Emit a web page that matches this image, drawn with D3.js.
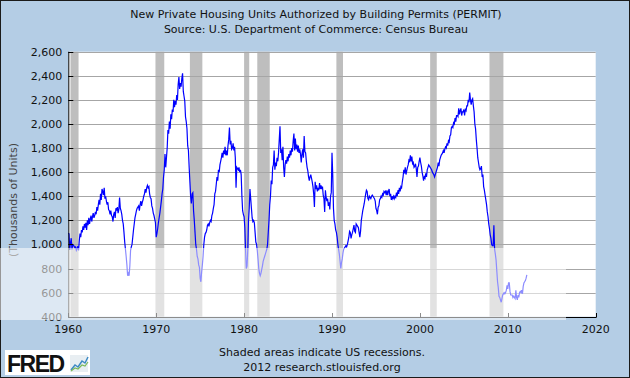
<!DOCTYPE html>
<html><head><meta charset="utf-8">
<script src="https://cdn.jsdelivr.net/npm/d3@7"></script>
<style>body{margin:0;padding:0;overflow:hidden}svg{display:block}</style>
</head><body>
<script>
// Monthly permits (thousands of units, SAAR), Jan 1960 onward
const startYear = 1960;
const permits = [
  1092,1088,955,1016,1052,958,999,994,984,972,979,951,
  965,985,950,1030,1090,1060,1120,1100,1150,1120,1170,1140,
  1180,1120,1200,1160,1220,1170,1210,1240,1190,1230,1260,1220,
  1240,1270,1250,1310,1280,1330,1370,1330,1420,1370,1460,1440,
  1410,1470,1380,1400,1360,1330,1350,1290,1280,1250,1280,1240,
  1230,1190,1250,1270,1220,1300,1280,1310,1260,1290,1390,1300,
  1280,1250,1200,1170,1100,1020,960,900,830,740,760,740,
  820,950,980,1000,1060,1120,1170,1220,1250,1280,1300,1310,
  1320,1280,1330,1360,1320,1350,1370,1400,1420,1460,1430,1470,
  1490,1470,1480,1420,1390,1380,1320,1300,1260,1240,1210,1180,
  1060,1090,1130,1180,1220,1260,1310,1360,1420,1460,1560,1620,
  1750,1640,1720,1800,1950,1920,2020,1960,2080,2040,2120,2100,
  2200,2140,2190,2160,2240,2200,2330,2390,2290,2340,2310,2380,
  2420,2270,2230,2190,2060,2020,1960,1820,1780,1640,1520,1400,
  1340,1420,1430,1280,1200,1100,1000,960,900,880,830,810,
  720,690,770,830,900,1000,1060,1090,1100,1120,1160,1170,
  1150,1180,1200,1190,1240,1260,1300,1330,1420,1440,1500,1560,
  1530,1620,1600,1660,1690,1720,1760,1720,1780,1750,1810,1740,
  1780,1740,1820,1870,1970,1830,1860,1790,1800,1840,1780,1810,
  1720,1470,1640,1630,1620,1640,1600,1620,1580,1400,1280,1250,
  1230,1140,950,800,820,950,1200,1300,1460,1380,1300,1220,
  1190,1200,1180,1100,1020,1000,950,880,800,760,740,760,
  790,820,860,880,900,920,940,960,1000,1100,1200,1330,
  1400,1530,1500,1640,1660,1780,1620,1680,1650,1720,1690,1760,
  1870,1980,1760,1790,1700,1810,1640,1560,1660,1700,1670,1730,
  1690,1750,1720,1780,1740,1800,1770,1860,1920,1780,1880,1790,
  1830,1770,1820,1760,1790,1750,1680,1750,1790,1720,1900,1770,
  1760,1690,1640,1610,1560,1530,1560,1580,1550,1520,1480,1420,
  1310,1520,1460,1490,1440,1470,1450,1510,1460,1490,1460,1480,
  1410,1380,1270,1450,1390,1360,1380,1320,1350,1290,1400,1430,
  1760,1580,1300,1200,1170,1120,1100,1060,1000,960,920,860,
  800,850,880,930,960,970,980,990,980,1000,1030,1060,
  1110,1100,1050,1080,1100,1130,1160,1110,1100,1170,1160,1150,
  1140,1100,1060,1110,1200,1240,1280,1310,1340,1380,1420,1450,
  1440,1380,1370,1400,1390,1380,1400,1410,1400,1390,1380,1360,
  1300,1280,1250,1310,1320,1370,1380,1400,1390,1420,1410,1440,
  1430,1440,1410,1450,1410,1440,1460,1400,1420,1370,1400,1380,
  1400,1380,1400,1390,1430,1400,1450,1420,1470,1440,1480,1470,
  1520,1560,1620,1590,1640,1580,1610,1640,1660,1700,1690,1740,
  1690,1730,1670,1680,1640,1650,1670,1630,1560,1640,1650,1690,
  1720,1680,1650,1600,1570,1530,1560,1550,1590,1560,1620,1640,
  1660,1650,1640,1630,1620,1600,1590,1580,1560,1580,1600,1620,
  1640,1680,1650,1700,1720,1740,1750,1760,1780,1760,1790,1810,
  1800,1840,1820,1860,1850,1900,1910,1970,1980,1970,2010,2000,
  2050,2020,2070,2070,2060,2130,2080,2110,2130,2070,2100,2100,
  2120,2070,2120,2110,2150,2150,2200,2180,2260,2200,2160,2200,
  2210,2150,2100,2000,1960,1870,1800,1720,1680,1640,1620,1630,
  1650,1560,1580,1480,1450,1410,1370,1330,1270,1230,1170,1130,
  1080,1050,1000,990,990,1160,960,920,870,780,690,640,
  570,560,540,520,550,580,590,600,590,600,620,660,
  630,680,680,610,580,580,580,560,570,560,550,620,
  560,540,580,560,600,610,600,620,590,650,680,690,
  700,720,747
];
// Recessions (start month inclusive, end = month after trough), as decimal years
const recessionStarts = [1960+3/12, 1969+11/12, 1973+10/12, 1980+0/12, 1981+6/12, 1990+6/12, 2001+2/12, 2007+11/12];
const recessionEnds   = [1961+2/12, 1970+11/12, 1975+3/12, 1980+7/12, 1982+11/12, 1991+3/12, 2001+11/12, 2009+6/12];
const yTicks = [400,600,800,1000,1200,1400,1600,1800,2000,2200,2400,2600];
const xTicks = [1960,1970,1980,1990,2000,2010,2020];

const W = 630, H = 378;
const L = 68.3, R = 595.7, T = 51.7, B = 316.7;
const font = "DejaVu Sans, Verdana, sans-serif";

const svg = d3.select("body").append("svg").attr("width", W).attr("height", H);
svg.append("rect").attr("x",0.5).attr("y",0.5).attr("width",W-1).attr("height",H-1)
  .attr("fill","#b4cde5").attr("stroke","#1a1a1a");

const x = d3.scaleLinear().domain([1960,2020]).range([L,R]);
const y = d3.scaleLinear().domain([400,2600]).range([B,T]);

// titles
svg.append("text").attr("x",316).attr("y",18).attr("text-anchor","middle")
  .attr("font-family",font).attr("font-size",11).attr("fill","#111")
  .text("New Private Housing Units Authorized by Building Permits (PERMIT)");
svg.append("text").attr("x",316).attr("y",33).attr("text-anchor","middle")
  .attr("font-family",font).attr("font-size",11).attr("fill","#111")
  .text("Source: U.S. Department of Commerce: Census Bureau");

// plot background
svg.append("rect").attr("x",L).attr("y",T).attr("width",R-L).attr("height",B-T).attr("fill","#fff");

// recessions
svg.append("g").selectAll("rect").data(recessionStarts).join("rect")
  .attr("x",(d)=>x(d)).attr("y",T)
  .attr("width",(d,i)=>x(recessionEnds[i])-x(d)).attr("height",B-T)
  .attr("fill","#bebebe");

// gridlines
svg.append("g").selectAll("line").data(yTicks.filter(v=>v>400)).join("line")
  .attr("x1",L).attr("x2",R).attr("y1",d=>Math.round(y(d))+0.5).attr("y2",d=>Math.round(y(d))+0.5)
  .attr("stroke","#a6a6a6").attr("stroke-width",1);

// data line
const data = permits.map((v,i)=>({t: startYear + i/12, v}));
svg.append("path").datum(data)
  .attr("d", d3.line().x(d=>x(d.t)).y(d=>y(d.v)))
  .attr("fill","none").attr("stroke","#0000ff").attr("stroke-width",1.2)
  .attr("stroke-linejoin","miter");

// axes lines
const ax = svg.append("g").attr("stroke","#000").attr("stroke-width",1);
ax.append("line").attr("x1",L+0.5).attr("x2",L+0.5).attr("y1",T).attr("y2",B+0.5);
ax.append("line").attr("x1",L).attr("x2",R+0.5).attr("y1",Math.round(B)+0.5).attr("y2",Math.round(B)+0.5);
ax.selectAll(".yt").data(yTicks).join("line")
  .attr("x1",L).attr("x2",L+5).attr("y1",d=>Math.round(y(d))+0.5).attr("y2",d=>Math.round(y(d))+0.5);
ax.selectAll(".xt").data(xTicks).join("line")
  .attr("x1",d=>Math.round(x(d))+0.5).attr("x2",d=>Math.round(x(d))+0.5)
  .attr("y1",Math.round(B)-4).attr("y2",Math.round(B)+0.5);

// tick labels
svg.append("g").selectAll("text").data(yTicks).join("text")
  .attr("x",L-6).attr("y",d=>y(d)+4).attr("text-anchor","end")
  .attr("font-family",font).attr("font-size",11).attr("fill","#111")
  .text(d3.format(","));
svg.append("g").selectAll("text").data(xTicks).join("text")
  .attr("x",d=>x(d)).attr("y",333).attr("text-anchor","middle")
  .attr("font-family",font).attr("font-size",11).attr("fill","#111")
  .text(d=>d);

// y axis title
svg.append("text").attr("transform","translate(17,200) rotate(-90)")
  .attr("text-anchor","middle").attr("font-family",font).attr("font-size",11).attr("fill","#444")
  .text("(Thousands of Units)");

// translucent watermark band present in the reference image
svg.append("rect").attr("x",0).attr("y",248).attr("width",566).attr("height",72)
  .attr("fill","#fff").attr("opacity",0.55);

// footer
svg.append("text").attr("x",322).attr("y",356).attr("text-anchor","middle")
  .attr("font-family",font).attr("font-size",11).attr("fill","#111")
  .text("Shaded areas indicate US recessions.");
svg.append("text").attr("x",322).attr("y",371).attr("text-anchor","middle")
  .attr("font-family",font).attr("font-size",11).attr("fill","#111")
  .text("2012 research.stlouisfed.org");

// FRED logo
const logo = svg.append("g");
logo.append("rect").attr("x",5).attr("y",350).attr("width",85).attr("height",25).attr("fill","#fff");
logo.append("text").attr("x",7).attr("y",372).attr("font-family","Liberation Sans, Arial, sans-serif")
  .attr("font-weight","bold").attr("font-size",23).attr("letter-spacing",-1.5).attr("fill","#111").text("FRED");
logo.append("rect").attr("x",70).attr("y",355).attr("width",18).attr("height",17).attr("fill","#e8eef2");
logo.append("polyline").attr("points","71,370 75,365 78,367 82,361 85,363 88,357")
  .attr("fill","none").attr("stroke","#3d8ac4").attr("stroke-width",1.5);
logo.append("polyline").attr("points","71,371 75,368 78,369 82,365 85,366 88,362")
  .attr("fill","none").attr("stroke","#7ab85a").attr("stroke-width",1.2);
</script>
</body></html>
